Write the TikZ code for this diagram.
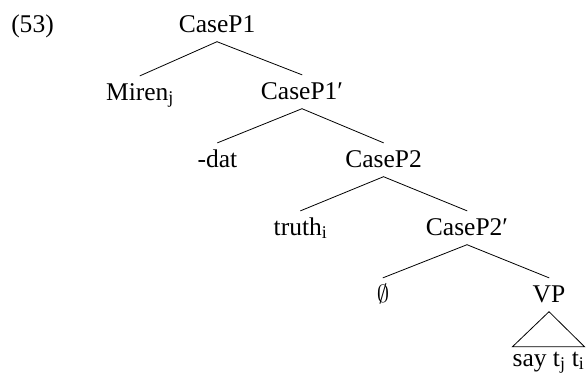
\documentclass[tikz,border=0pt]{standalone}
\usepackage{fontspec}
\setmainfont{Liberation Serif}
\begin{document}
\begin{tikzpicture}[x=1bp,y=-1bp,
  every node/.style={font=\fontsize{25.5bp}{30bp}\selectfont},
  lbl/.style={anchor=base, text height=17bp, text depth=2.5bp, inner ysep=7bp, inner xsep=0pt},
  leaf/.style={anchor=base, text height=17bp, text depth=0bp, inner ysep=2bp, inner xsep=0pt},
  edge/.style={line width=0.8bp, line cap=round}]
\useasboundingbox (0,0) rectangle (587,377);
\node[lbl] (num) at (32.5,32) {(53)};
\node[lbl] (cp1) at (217,32) {CaseP1};
\node[lbl] (miren) at (140,100) {Miren\textsubscript{j}};
\node[lbl] (cp1b) at (302,99) {CaseP1′};
\node[lbl] (dat) at (217.5,167) {-dat};
\node[lbl] (cp2) at (383.5,167) {CaseP2};
\node[lbl] (truth) at (300.5,235) {truth\textsubscript{i}};
\node[lbl] (cp2b) at (467,235) {CaseP2′};
\node[lbl] (empty) at (383,302) {$\emptyset$};
\node[lbl] (vp) at (549,302) {VP};
\node[leaf] (say) at (548.5,366) {say t\textsubscript{j} t\textsubscript{i}};
\draw[edge] (cp1.south) -- (miren.north);
\draw[edge] (cp1.south) -- (cp1b.north);
\draw[edge] (cp1b.south) -- (dat.north);
\draw[edge] (cp1b.south) -- (cp2.north);
\draw[edge] (cp2.south) -- (truth.north);
\draw[edge] (cp2.south) -- (cp2b.north);
\draw[edge] (cp2b.south) -- (empty.north);
\draw[edge] (cp2b.south) -- (vp.north);
\draw[edge, line join=miter] (vp.south) -- (say.north west) -- (say.north east) -- cycle;
\end{tikzpicture}
\end{document}
